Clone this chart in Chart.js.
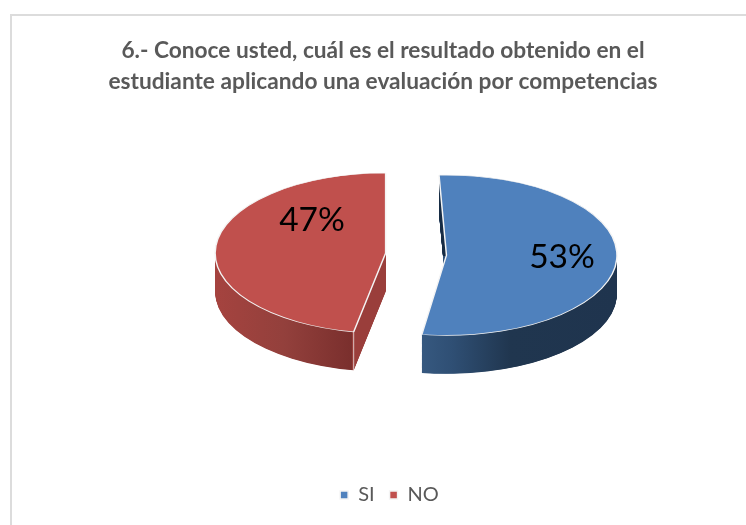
<!DOCTYPE html>
<html><head><meta charset="utf-8">
<style>html,body{margin:0;padding:0;background:#fff}#w{position:absolute;left:0;top:0;width:746px;height:525px}</style>
<script src="https://cdn.jsdelivr.net/npm/chart.js@4"></script></head>
<body><div id="w"><canvas id="c" width="746" height="525"></canvas></div>
<script>
const categories = ['SI', 'NO'];
const values = [53, 47];
const sliceColors = ['#4F81BD', '#C0504D'];
const titleLines = ['6.- Conoce usted, cuál es el resultado obtenido en el', 'estudiante aplicando una evaluación por competencias'];
const FONT = 'Lato, Carlito, sans-serif';
const squash = 0.47, depth = 38.5, pieX = 416, pieY = 254.5;
const labelPos = [[562, 257], [312, 220]];
const sliceTurn = [-2.5 * Math.PI / 180, 0];
const drawnRadius = 170.5;

// Chart.js shrinks an offset arc's radius and sweep a little; undo that so the face meets its wall.
const radialOffset = (a) => (a.options.offset / 4) * (1 - Math.sin(Math.min(Math.PI, a.circumference)));
const pie3d = {
  id: 'pie3d',
  afterLayout(chart) {
    chart.legend.left += 6.5; chart.legend.right += 6.5;
  },
  afterDatasetsUpdate(chart) {
    chart.getDatasetMeta(0).data.forEach((a, i) => {
      const ro = radialOffset(a);
      a.outerRadius = drawnRadius - ro;
      const trim = ro / (2 * Math.PI * drawnRadius);
      a.startAngle += sliceTurn[i] - trim;
      a.endAngle += sliceTurn[i] + trim;
    });
  },
  beforeDraw(chart) {
    const ctx = chart.ctx;
    ctx.save();
    ctx.strokeStyle = '#dcdcdc';
    ctx.lineWidth = 2;
    ctx.beginPath();
    ctx.moveTo(11, 525); ctx.lineTo(11, 15); ctx.lineTo(746, 15);
    ctx.stroke();
    ctx.restore();
  },
  beforeDatasetsDraw(chart) {
    const ctx = chart.ctx, arcs = chart.getDatasetMeta(0).data;
    const a0 = arcs[0];
    ctx.save();
    ctx.translate(pieX, pieY);
    ctx.scale(1, squash);
    ctx.translate(-a0.x, -a0.y);
    arcs.forEach((a, i) => {
      const ro = radialOffset(a), trim = ro / (2 * Math.PI * drawnRadius);
      const o = a.options.offset / 4, mid = (a.startAngle + a.endAngle) / 2;
      const cx = a.x + Math.cos(mid) * o, cy = a.y + Math.sin(mid) * o;
      const s = a.startAngle + trim, e = a.endAngle - trim;
      const toLocal = (px) => px - pieX + a0.x;
      const g = ctx.createLinearGradient(toLocal(i === 0 ? 423 : 216), 0, toLocal(i === 0 ? 617 : 352), 0);
      if (i === 0) {
        g.addColorStop(0, '#36587f');
        g.addColorStop(0.15, '#2f4f74');
        g.addColorStop(0.45, '#20364f');
        g.addColorStop(1, '#1f344e');
      } else {
        g.addColorStop(0, '#a5433f');
        g.addColorStop(0.5, '#93403c');
        g.addColorStop(0.999, '#7a2f2d');
        g.addColorStop(1, '#9a3e3b');
      }
      const fillWall = (style) => {
        ctx.fillStyle = style;
        for (let d = depth / squash; d > 0; d -= 1) {
          ctx.beginPath();
          ctx.moveTo(cx, cy + d);
          ctx.arc(cx, cy + d, drawnRadius, s, e);
          ctx.closePath();
          ctx.fill();
        }
      };
      fillWall(g);
      if (i === 0) {
        ctx.save();
        ctx.beginPath();
        ctx.rect(cx - drawnRadius, cy - drawnRadius, drawnRadius, drawnRadius);
        ctx.clip();
        fillWall('#1b3048');
        ctx.restore();
      }
    });
  },
  afterDatasetsDraw(chart) {
    const ctx = chart.ctx, arcs = chart.getDatasetMeta(0).data;
    const a = arcs[1], o = a.options.offset / 4, mid = (a.startAngle + a.endAngle) / 2;
    const s = a.startAngle + radialOffset(a) / (2 * Math.PI * drawnRadius);
    const sx = a.x + Math.cos(mid) * o + Math.cos(s) * drawnRadius;
    const sy = a.y + Math.sin(mid) * o + Math.sin(s) * drawnRadius;
    ctx.strokeStyle = '#f2f2f2';
    ctx.lineWidth = 1;
    ctx.beginPath();
    ctx.moveTo(sx, sy);
    ctx.lineTo(sx, sy + depth / squash);
    ctx.stroke();
    ctx.restore();
    ctx.save();
    ctx.fillStyle = '#000';
    ctx.font = '33.5px ' + FONT;
    ctx.textAlign = 'center';
    ctx.textBaseline = 'middle';
    values.forEach((v, i) => ctx.fillText(v + '%', labelPos[i][0], labelPos[i][1]));
    ctx.restore();
  }
};
new Chart(document.getElementById('c'), {
  type: 'pie',
  data: { labels: categories, datasets: [{ data: values, backgroundColor: sliceColors, borderColor: '#f4f4f4', borderWidth: 1.5, offset: 122, clip: false }] },
  options: {
    responsive: false, animation: false,
    rotation: 0, radius: 139.5,
    layout: { padding: { left: 20, bottom: 10 } },
    plugins: {
      title: { display: true, text: titleLines, color: '#595959', font: { family: FONT, size: 22.7, weight: 'bold', lineHeight: 1.366 }, padding: { top: 35, bottom: 0 } },
      legend: { position: 'bottom', labels: { color: '#595959', font: { family: FONT, size: 20 }, boxWidth: 8, boxHeight: 8, padding: 15 } },
      tooltip: { enabled: false }
    }
  },
  plugins: [pie3d]
});
</script></body></html>
